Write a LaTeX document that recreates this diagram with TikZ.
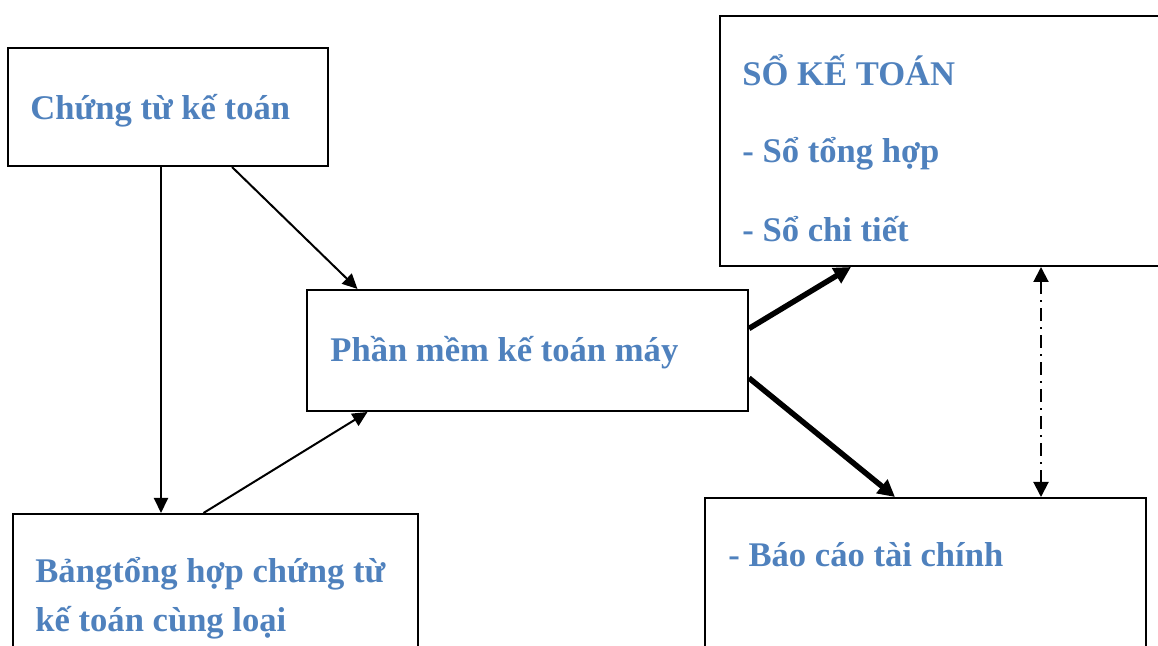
\documentclass[tikz,border=0pt]{standalone}
\usepackage{fontspec}
\setmainfont{Liberation Serif}
\usetikzlibrary{arrows.meta}
\definecolor{chuxanh}{RGB}{79,129,189}
\tikzset{
	khung/.style={draw, line width=1pt, rectangle, inner sep=0pt},
	chu/.style={text=chuxanh, font=\fontsize{17.3}{20}\selectfont\bfseries, inner sep=0pt, anchor=base west},
	muiten/.style={line width=1pt, -{Triangle[length=7.5pt,width=7pt]}},
	muitendam/.style={line width=2.75pt, -{Triangle[length=8.5pt,width=8.5pt]}},
	haichieu/.style={line width=1pt, dash pattern=on 6.5pt off 3pt on 1pt off 3pt, {Triangle[length=7.5pt,width=7.5pt]}-{Triangle[length=7.5pt,width=7.5pt]}}
}
\begin{document}
\begin{tikzpicture}[x=0.5pt, y=-0.5pt]
		\useasboundingbox (0,0) rectangle (1158,646);
		\clip (0,0) rectangle (1158,646);
		% Boxes
		\node [khung, minimum width=160pt, minimum height=59pt] (ct) at (168,107) {};
		\node [khung, minimum width=220.5pt, minimum height=60.5pt] (pm) at (527.5,350.5) {};
		\node [khung, minimum width=230pt, minimum height=125pt] (sk) at (950,141) {};
		\node [khung, minimum width=220.5pt, minimum height=101pt] (bc) at (925.5,599) {};
		\node [khung, minimum width=202.5pt, minimum height=93pt] (bth) at (215.5,607) {};
		% Texts in the boxes
		\node [chu] (ct1) at (30,120) {Chứng từ kế toán};
		\node [chu] (pm1) at (330,362) {Phần mềm kế toán máy};
		\node [chu] (sk1) at (742,86) {SỔ KẾ TOÁN};
		\node [chu] (sk2) at (742,163) {- Sổ tổng hợp};
		\node [chu] (sk3) at (742,242) {- Sổ chi tiết};
		\node [chu] (bc1) at (728,567) {- Báo cáo tài chính};
		\node [chu] (bth1) at (35,583) {Bảngtổng hợp chứng từ};
		\node [chu] (bth2) at (35,632) {kế toán cùng loại};
		% Arrows
		\draw [muiten] ([xshift=-3.5pt]ct.south) -- ([xshift=-3.5pt]ct.south |- bth.north);
		\draw [muiten] ([xshift=32pt]ct.south) -- ([xshift=-85pt]pm.north);
		\draw [muiten] ([xshift=-6pt]bth.north) -- ([xshift=-80pt]pm.south);
		\draw [muitendam] ([yshift=11pt]pm.east) -- ([xshift=66pt]sk.south west);
		\draw [muitendam] ([yshift=-13.75pt]pm.east) -- ([xshift=95.5pt]bc.north west);
		\draw [haichieu] ([xshift=161pt]sk.south west) -- ([xshift=161pt]sk.south west |- bc.north);
	\end{tikzpicture}
\end{document}
